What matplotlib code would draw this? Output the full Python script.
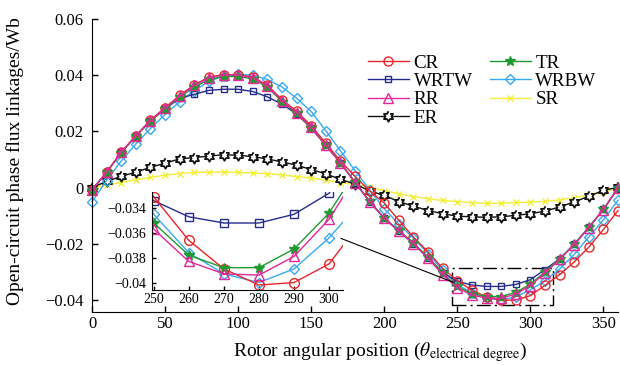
import numpy as np
import matplotlib
matplotlib.use('Agg')
import matplotlib.pyplot as plt
from matplotlib.ticker import FuncFormatter, FixedLocator
from matplotlib.patches import Rectangle

plt.rcParams['font.family'] = 'Liberation Serif'
plt.rcParams['mathtext.fontset'] = 'stix'

#############################################################
''' data read off the figure (Wb), every 10 electrical degrees '''

angle = np.arange(0, 361, 10)

cr = [-0.0008, 0.0055, 0.0126, 0.0185, 0.0240, 0.0285, 0.0328, 0.0366, 0.0393, 0.0402,
      0.0402, 0.0393, 0.0365, 0.0313, 0.0272, 0.0220, 0.0158, 0.0095, 0.0040, -0.0012,
      -0.0055, -0.0117, -0.0176, -0.0229, -0.0288, -0.0331, -0.0366, -0.0389, -0.0402, -0.0400,
      -0.0385, -0.0348, -0.0310, -0.0265, -0.0212, -0.0149, -0.0082]
wrtw = [-0.0008, 0.0054, 0.0125, 0.0184, 0.0237, 0.0280, 0.0318, 0.0332, 0.0346, 0.0350,
        0.0350, 0.0342, 0.0323, 0.0297, 0.0262, 0.0212, 0.0150, 0.0088, 0.0018, -0.0050,
        -0.0110, -0.0155, -0.0200, -0.0250, -0.0303, -0.0334, -0.0347, -0.0352, -0.0352, -0.0345,
        -0.0328, -0.0292, -0.0254, -0.0202, -0.0142, -0.0078, -0.0001]
rr = [-0.0008, 0.0054, 0.0125, 0.0184, 0.0238, 0.0283, 0.0326, 0.0364, 0.0391, 0.0401,
      0.0401, 0.0391, 0.0362, 0.0309, 0.0267, 0.0214, 0.0150, 0.0088, 0.0018, -0.0050,
      -0.0110, -0.0155, -0.0200, -0.0252, -0.0310, -0.0357, -0.0383, -0.0393, -0.0394, -0.0379,
      -0.0349, -0.0304, -0.0256, -0.0203, -0.0143, -0.0079, -0.0001]
er = [0.0000, 0.0022, 0.0040, 0.0055, 0.0072, 0.0087, 0.0102, 0.0107, 0.0112, 0.0117,
      0.0115, 0.0110, 0.0102, 0.0091, 0.0080, 0.0064, 0.0049, 0.0029, 0.0013, -0.0012,
      -0.0028, -0.0050, -0.0066, -0.0082, -0.0093, -0.0102, -0.0104, -0.0106, -0.0104, -0.0099,
      -0.0093, -0.0084, -0.0069, -0.0051, -0.0031, -0.0010, 0.0001]
tr = [-0.0008, 0.0054, 0.0124, 0.0183, 0.0236, 0.0281, 0.0322, 0.0358, 0.0385, 0.0395,
      0.0396, 0.0387, 0.0358, 0.0306, 0.0265, 0.0213, 0.0150, 0.0089, 0.0020, -0.0048,
      -0.0108, -0.0152, -0.0197, -0.0248, -0.0305, -0.0352, -0.0378, -0.0388, -0.0388, -0.0373,
      -0.0344, -0.0300, -0.0254, -0.0202, -0.0142, -0.0078, -0.0001]
wrbw = [-0.0050, 0.0025, 0.0095, 0.0155, 0.0210, 0.0260, 0.0305, 0.0345, 0.0378, 0.0397,
        0.0403, 0.0400, 0.0385, 0.0358, 0.0318, 0.0271, 0.0202, 0.0131, 0.0060, -0.0008,
        -0.0075, -0.0130, -0.0180, -0.0235, -0.0295, -0.0345, -0.0376, -0.0393, -0.0400, -0.0389,
        -0.0364, -0.0332, -0.0290, -0.0238, -0.0176, -0.0115, -0.0045]
sr = [0.0000, 0.0008, 0.0018, 0.0028, 0.0036, 0.0044, 0.0050, 0.0054, 0.0055, 0.0055,
      0.0054, 0.0052, 0.0049, 0.0045, 0.0039, 0.0034, 0.0027, 0.0017, 0.0011, 0.0001,
      -0.0011, -0.0022, -0.0032, -0.0040, -0.0046, -0.0050, -0.0054, -0.0056, -0.0056, -0.0053,
      -0.0052, -0.0049, -0.0044, -0.0036, -0.0027, -0.0016, -0.0001]

# hexagram marker for ER
hexagram = []
for k in range(12):
    r = 1.0 if k % 2 == 0 else 0.577
    a = np.pi / 2 + k * np.pi / 6
    hexagram.append((r * np.cos(a), r * np.sin(a)))

# label, values, colour, marker, size, face, edge width
series = [('SR', sr, '#f2ee3a', 'x', 5, '#f2ee3a', 1.0),
          ('ER', er, '#111111', hexagram, 7.5, 'white', 1.3),
          ('WRBW', wrbw, '#38aaf2', 'D', 5, 'none', 1.0),
          ('WRTW', wrtw, '#262c8e', 's', 5, 'none', 1.0),
          ('CR', cr, '#e8262a', 'o', 6.5, 'none', 1.0),
          ('TR', tr, '#1f9a2f', '*', 7, '#1f9a2f', 1.0),
          ('RR', rr, '#e3289a', '^', 6.5, 'none', 1.0)]

#############################################################
''' main plot '''

fig = plt.figure(figsize=(6.2, 3.65), dpi=100)
ax = fig.add_axes([0.1484, 0.1452, 0.8484, 0.8027])

lines = {}
for name, vals, col, mk, ms, mfc, mew in series:
    l, = ax.plot(angle, vals, color=col, lw=1.0, marker=mk, ms=ms, mfc=mfc,
                 mec=col, mew=mew, clip_on=False, label=name)
    lines[name] = l

ax.set_xlim(0, 360)
ax.set_ylim(-0.0443, 0.06)
ax.xaxis.set_major_locator(FixedLocator(np.arange(0, 351, 50)))
ax.yaxis.set_major_locator(FixedLocator([-0.04, -0.02, 0, 0.02, 0.04, 0.06]))
ax.yaxis.set_major_formatter(FuncFormatter(
    lambda v, p: '0' if abs(v) < 1e-9 else ('%.2f' % v).replace('-', '\u2212')))
for s in ['top', 'right']:
    ax.spines[s].set_visible(False)
ax.tick_params(direction='in', length=4, width=1, labelsize=12)
ax.tick_params(axis='x', pad=3)
ax.tick_params(axis='y', pad=6)

# zoom box and connector
ax.add_patch(Rectangle((246.4, -0.0418), 69.1, 0.0131, fill=False, ec='k', lw=1,
                       ls=(0, (10, 3, 1.5, 3)), clip_on=False))
ax.plot([170.4, 247.1], [-0.0181, -0.0337], color='k', lw=0.8)

order = ['CR', 'WRTW', 'RR', 'ER', 'TR', 'WRBW', 'SR']
ax.legend([lines[n] for n in order], order, ncol=2, frameon=False, fontsize=13.7,
          loc='upper left', bbox_to_anchor=(0.5935, 0.8507), bbox_transform=fig.transFigure,
          handlelength=2.15, handletextpad=0.25, columnspacing=0.9, labelspacing=0.05,
          borderpad=0, borderaxespad=0)

fig.text(0.024, 0.5575, 'Open-circuit phase flux linkages/Wb', rotation=90,
         ha='center', va='center', fontsize=14)
fig.text(0.613, 0.0356, r'Rotor angular position ($\theta_{\mathrm{electrical\ degree}}$)',
         ha='center', va='center', fontsize=14)

#############################################################
''' inset '''

axi = fig.add_axes([0.2452, 0.2055, 0.3081, 0.2685], facecolor='none')
for name, vals, col, mk, ms, mfc, mew in series:
    if name in ['ER', 'SR']:
        continue
    axi.plot(angle, vals, color=col, lw=1.0, marker=mk, ms=ms + 0.5, mfc=mfc, mec=col, mew=mew)
axi.set_xlim(249.5, 304)
axi.set_ylim(-0.0406, -0.0327)
axi.xaxis.set_major_locator(FixedLocator(np.arange(250, 301, 10)))
axi.yaxis.set_major_locator(FixedLocator([-0.04, -0.038, -0.036, -0.034]))
axi.yaxis.set_major_formatter(FuncFormatter(lambda v, p: ('%g' % v).replace('-', '\u2212')))
for s in ['top', 'right']:
    axi.spines[s].set_visible(False)
axi.tick_params(direction='in', length=3, width=1, labelsize=10)
axi.tick_params(axis='x', pad=2)
axi.tick_params(axis='y', pad=4)

fig.savefig('out.png', dpi=100)
